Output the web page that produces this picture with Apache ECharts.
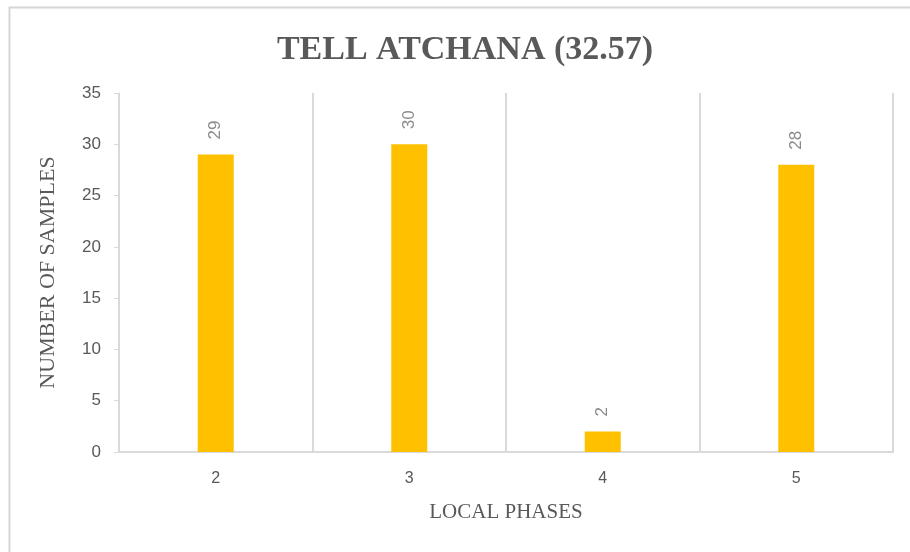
<!DOCTYPE html>
<html>
<head>
<meta charset="utf-8">
<script src="https://cdn.jsdelivr.net/npm/echarts@6/dist/echarts.min.js"></script>
<style>
  html, body { margin: 0; padding: 0; background: #fff; }
  #main { width: 910px; height: 552px; }
</style>
</head>
<body>
<div id="main"></div>
<script>
// local phases and sample counts
var phases = ["2", "3", "4", "5"];
var samples = [29, 30, 2, 28];

var myChart = echarts.init(document.getElementById("main"));

var option = {
  animation: false,
  backgroundColor: "#fff",
  title: {
    text: "TELL ATCHANA (32.57)",
    left: 460,
    top: 28,
    textAlign: "center",
    textStyle: {
      fontFamily: "Liberation Serif",
      fontWeight: "bold",
      fontSize: 34,
      color: "#595959"
    }
  },
  graphic: [
    {
      type: "rect",
      shape: { x: 9.5, y: 7.5, width: 1000, height: 1000 },
      style: { fill: "none", stroke: "#d6d6d6", lineWidth: 2 },
      silent: true
    }
  ],
  grid: { left: 119, right: 17, top: 93, bottom: 100 },
  xAxis: {
    type: "category",
    data: phases,
    name: "LOCAL PHASES",
    nameLocation: "middle",
    nameGap: 50,
    nameTextStyle: { fontFamily: "Liberation Serif", fontSize: 21, color: "#595959" },
    axisLine: { lineStyle: { color: "#d9d9d9", width: 2 } },
    axisTick: { show: false },
    axisLabel: { margin: 19, fontFamily: "Liberation Sans", fontSize: 16, color: "#595959" },
    splitLine: { show: true, lineStyle: { color: "#d9d9d9", width: 2 } }
  },
  yAxis: {
    type: "value",
    min: 0,
    max: 35,
    interval: 5,
    name: "NUMBER OF SAMPLES",
    nameLocation: "middle",
    nameGap: 60,
    nameTextStyle: { fontFamily: "Liberation Serif", fontSize: 22, color: "#595959" },
    axisLine: { show: true, lineStyle: { color: "#d9d9d9" } },
    axisTick: { show: true, length: 5, lineStyle: { color: "#d9d9d9" } },
    axisLabel: { margin: 18, fontFamily: "Liberation Sans", fontSize: 17, color: "#595959" },
    splitLine: { show: false }
  },
  series: [
    {
      name: "samples",
      type: "bar",
      data: samples,
      barWidth: 36,
      itemStyle: { color: "#FFC000" },
      label: {
        show: true,
        position: "top",
        rotate: 90,
        align: "left",
        verticalAlign: "middle",
        distance: 15,
        fontFamily: "Liberation Sans",
        fontSize: 17,
        color: "#8c8c8c"
      }
    }
  ]
};

myChart.setOption(option);
</script>
</body>
</html>
